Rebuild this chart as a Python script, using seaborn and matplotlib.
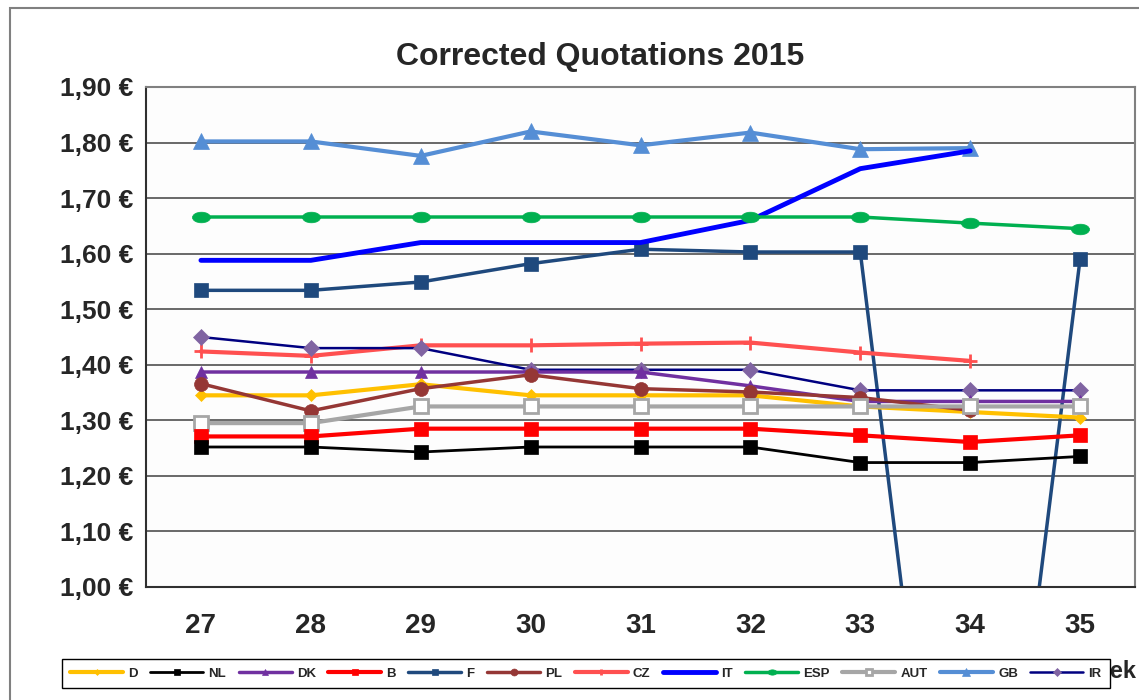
import numpy as np
import pandas as pd
import matplotlib
matplotlib.use('Agg')
import matplotlib.pyplot as plt
import matplotlib.patches as patches
from matplotlib.path import Path
from matplotlib.ticker import FuncFormatter, FixedLocator
import seaborn as sns

weeks = [27, 28, 29, 30, 31, 32, 33, 34, 35]

D = [1.345, 1.345, 1.365, 1.345, 1.345, 1.345, 1.325, 1.315, 1.305]
NL = [1.252, 1.252, 1.243, 1.252, 1.252, 1.252, 1.224, 1.224, 1.235]
DK = [1.387, 1.387, 1.387, 1.387, 1.387, 1.362, 1.334, 1.334, 1.334]
B = [1.271, 1.271, 1.285, 1.285, 1.285, 1.285, 1.273, 1.261, 1.273]
F = [1.534, 1.534, 1.549, 1.582, 1.608, 1.603, 1.603, 0.0, 1.59]
PL = [1.366, 1.317, 1.357, 1.382, 1.357, 1.351, 1.341, 1.318, np.nan]
CZ = [1.424, 1.416, 1.435, 1.435, 1.438, 1.44, 1.422, 1.407, np.nan]
IT = [1.588, 1.588, 1.62, 1.62, 1.62, 1.66, 1.753, 1.785, np.nan]
ESP = [1.666, 1.666, 1.666, 1.666, 1.666, 1.666, 1.666, 1.655, 1.645]
AUT = [1.295, 1.295, 1.325, 1.325, 1.325, 1.325, 1.325, 1.325, 1.325]
GB = [1.802, 1.802, 1.776, 1.82, 1.795, 1.818, 1.788, 1.79, np.nan]
IR = [1.45, 1.43, 1.43, 1.391, 1.391, 1.391, 1.354, 1.354, 1.354]

series = {'D': D, 'NL': NL, 'DK': DK, 'B': B, 'F': F, 'PL': PL, 'CZ': CZ,
          'IT': IT, 'ESP': ESP, 'AUT': AUT, 'GB': GB, 'IR': IR}

# flat oval marker for ESP
circ = Path.unit_circle()
oval = Path(circ.vertices * [1.7, 1.0], circ.codes)

# color, line width, marker, marker size, marker face, marker edge
styles = {
    'D':   ('#FFC000', 3.0, 'D', 6, '#FFC000', '#FFC000'),
    'NL':  ('#000000', 2.0, 's', 10, '#000000', '#000000'),
    'DK':  ('#7030A0', 2.5, '^', 9, '#7030A0', '#7030A0'),
    'B':   ('#FF0000', 3.0, 's', 10, '#FF0000', '#FF0000'),
    'F':   ('#1F497D', 2.5, 's', 10, '#1F497D', '#1F497D'),
    'PL':  ('#953735', 2.5, 'o', 10, '#953735', '#953735'),
    'CZ':  ('#FF5050', 3.0, '+', 10, '#FF5050', '#FF5050'),
    'IT':  ('#0000FF', 3.5, None, 0, '#0000FF', '#0000FF'),
    'ESP': ('#00B050', 2.5, oval, 13, '#00B050', '#00B050'),
    'AUT': ('#A6A6A6', 3.0, 's', 10, 'white', '#A6A6A6'),
    'GB':  ('#558ED5', 3.0, '^', 11, '#558ED5', '#558ED5'),
    'IR':  ('#000080', 1.8, 'D', 8, '#8064A2', '#8064A2'),
}

sns.set_style('white')
plt.rcParams['font.family'] = ['Liberation Sans', 'DejaVu Sans']

fig = plt.figure(figsize=(11.39, 7), dpi=100)
ax = fig.add_axes([146 / 1139, 1 - 587 / 700, (1135 - 146) / 1139, 500 / 700])

draw_order = ['F', 'GB', 'IT', 'ESP', 'CZ', 'IR', 'DK', 'D', 'PL', 'AUT', 'B', 'NL']
handles = {}
for name in draw_order:
    col, lw, mk, ms, mfc, mec = styles[name]
    df = pd.DataFrame({'week': weeks, 'value': series[name]}).dropna()
    sns.lineplot(data=df, x='week', y='value', ax=ax, color=col, linewidth=lw,
                 marker=mk, markersize=ms, markerfacecolor=mfc,
                 markeredgecolor=mec, markeredgewidth=2 if name in ('AUT', 'CZ') else 0.5,
                 label=name, legend=False, clip_on=True)
    handles[name] = ax.lines[-1]

ax.set_xlim(26.5, 35.5)
ax.set_ylim(1.0, 1.9)
ax.set_yticks(np.arange(1.0, 1.91, 0.1))
ax.yaxis.set_major_formatter(FuncFormatter(lambda v, p: f'{v:.2f} €'.replace('.', ',')))
ax.set_xticks(weeks)
ax.xaxis.set_minor_locator(FixedLocator(np.arange(26.5, 35.6, 1.0)))
ax.tick_params(axis='x', which='major', length=0, pad=19)
ax.tick_params(axis='x', which='minor', length=8, width=1, color='#404040', direction='out')
ax.tick_params(axis='y', length=6, width=1, color='#404040', direction='out', pad=3)
for lab in ax.get_yticklabels():
    lab.set_fontsize(19)
    lab.set_fontweight('bold')
for lab in ax.get_xticklabels():
    lab.set_fontsize(20)
    lab.set_fontweight('bold')
ax.set_xlabel('')
ax.set_ylabel('')
ax.grid(axis='y', color='#505050', linewidth=1.2)
ax.set_axisbelow(True)
ax.set_facecolor('#FDFDFD')
for side in ('top', 'right'):
    ax.spines[side].set_color('#808080')
    ax.spines[side].set_linewidth(1.5)
for side in ('left', 'bottom'):
    ax.spines[side].set_color('#303030')
    ax.spines[side].set_linewidth(1.5)

fig.suptitle('Corrected Quotations 2015', x=600 / 1139, y=1 - 57 / 700,
             va='center', fontsize=23, fontweight='bold')

fig.text(1137 / 1139, 1 - 672 / 700, 'Week', ha='right', va='center',
         fontsize=17, fontweight='bold')

order = ['D', 'NL', 'DK', 'B', 'F', 'PL', 'CZ', 'IT', 'ESP', 'AUT', 'GB', 'IR']
leg = fig.legend([handles[n] for n in order], order, loc='center',
                 bbox_to_anchor=(586 / 1139, 1 - 673.5 / 700), ncol=12,
                 frameon=True, fancybox=False, framealpha=1, edgecolor='black',
                 prop={'weight': 'bold', 'size': 9.5}, markerscale=0.5,
                 handlelength=4.0, handletextpad=0.4, columnspacing=0.95,
                 borderpad=0.6)
leg.get_frame().set_linewidth(1.0)
leg.set_zorder(10)

fig.patches.append(patches.Rectangle((10 / 1139, -0.1), 1.2, 1 - 8 / 700 + 0.1,
                                     transform=fig.transFigure, fill=False,
                                     edgecolor='#808080', linewidth=1.5))

fig.savefig('out.png', dpi=100)
